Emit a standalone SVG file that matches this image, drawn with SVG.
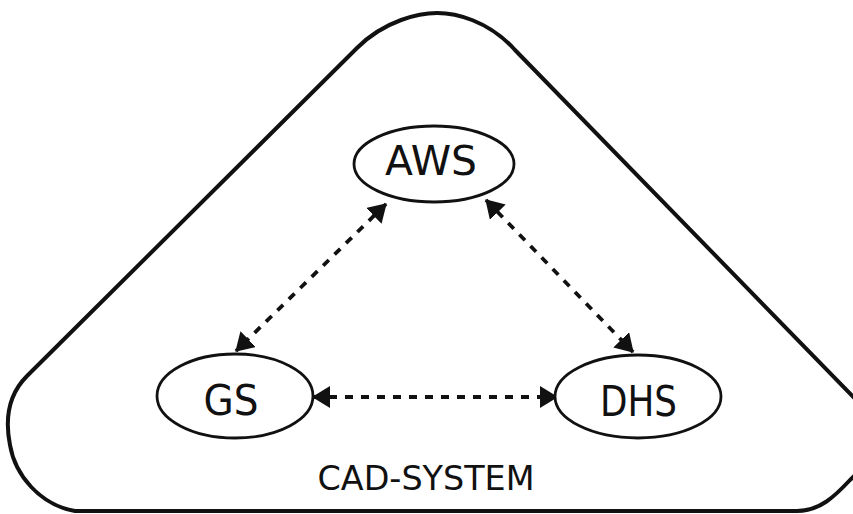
<svg xmlns="http://www.w3.org/2000/svg" width="853" height="514" viewBox="0 0 853 514">
  <style>
    .frame { fill: none; stroke: #111; stroke-width: 4; stroke-linejoin: round; }
    .node { fill: #fff; stroke: #111; stroke-width: 2.8; }
    .label { font-family: "DejaVu Sans", "Liberation Sans", sans-serif; fill: #111; text-anchor: middle; }
    .link { fill: none; stroke: #111; stroke-width: 3.8; stroke-dasharray: 8 8; }
  </style>
  <defs>
    <marker id="head" viewBox="0 -11 18 22" refX="17" refY="0" markerWidth="18" markerHeight="22" markerUnits="userSpaceOnUse" orient="auto-start-reverse">
      <path d="M0,-11 L18,0 L0,11 z" fill="#111"/>
    </marker>
  </defs>
  <rect width="853" height="514" fill="#fff"/>

  <!-- system boundary: rounded triangle -->
  <g id="cad-system">
    <path class="frame" d="M 357 48 C 385 20, 420 13, 437 13 C 455 13, 488 20, 515 50 L 868 412 C 880 428, 872 460, 850 480 C 835 496, 820 511, 797 511 L 75 511 C 40 505, 15 475, 10 445 C 5 420, 8 395, 27 376 Z"/>
    <text class="label" x="426" y="490" font-size="34" textLength="217" lengthAdjust="spacingAndGlyphs">CAD-SYSTEM</text>
  </g>

  <!-- connectors -->
  <g id="connectors">
    <line class="link" x1="386" y1="204" x2="236" y2="351" marker-start="url(#head)" marker-end="url(#head)"/>
    <line class="link" x1="486" y1="200" x2="633" y2="352" marker-start="url(#head)" marker-end="url(#head)"/>
    <line class="link" x1="313" y1="397" x2="557" y2="397" marker-start="url(#head)" marker-end="url(#head)"/>
  </g>

  <g id="aws">
    <ellipse class="node" cx="434" cy="164" rx="80" ry="38"/>
    <text class="label" x="431" y="175" font-size="41" textLength="92" lengthAdjust="spacingAndGlyphs">AWS</text>
  </g>

  <g id="gs">
    <ellipse class="node" cx="235" cy="396" rx="78" ry="42"/>
    <text class="label" x="231" y="415" font-size="43" textLength="55" lengthAdjust="spacingAndGlyphs">GS</text>
  </g>

  <g id="dhs">
    <ellipse class="node" cx="638" cy="396.5" rx="83" ry="41.5"/>
    <text class="label" x="638.5" y="416" font-size="43" textLength="77" lengthAdjust="spacingAndGlyphs">DHS</text>
  </g>
</svg>
